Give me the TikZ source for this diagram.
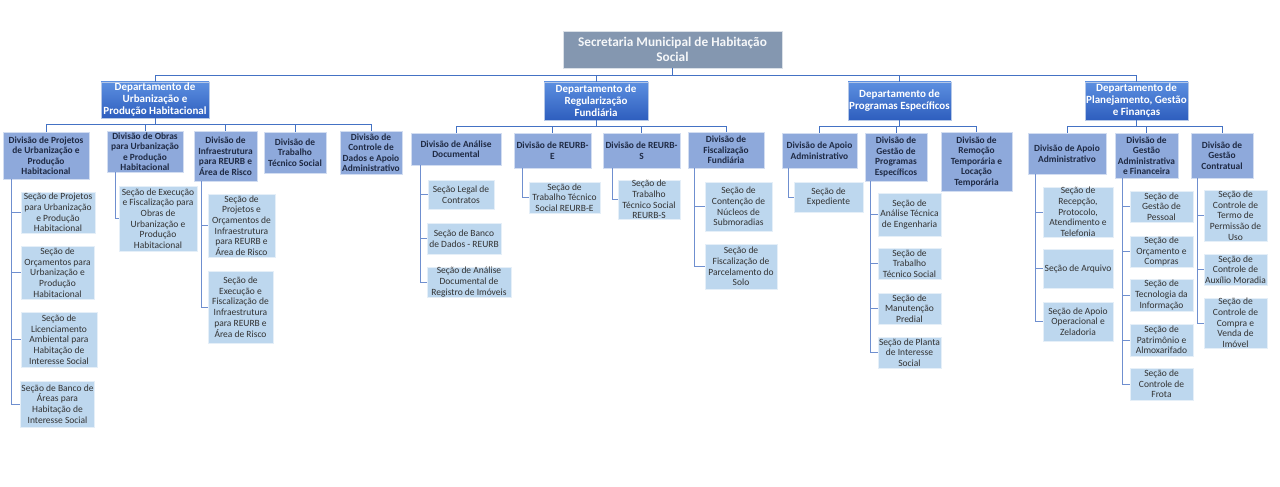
\documentclass[tikz,border=0pt]{standalone}
\usepackage{fontspec}
\setmainfont{Carlito}
\definecolor{lineblue}{HTML}{4472C4}
\definecolor{spineblue}{HTML}{6F8FCF}
\definecolor{divfill}{HTML}{8EA9DB}
\definecolor{secfill}{HTML}{BDD7EE}
\definecolor{titlefill}{HTML}{8497B0}
\definecolor{deptop}{HTML}{5C8FE0}
\definecolor{depbot}{HTML}{2E5EBE}
\definecolor{divtext}{HTML}{1F2A44}
\definecolor{sectext}{HTML}{333333}
\newcommand{\obox}[7]{%
  \pgfmathsetmacro{\oboxW}{#5-#3}%
  \pgfmathsetmacro{\oboxH}{#6-#4}%
  \pgfmathsetmacro{\oboxX}{(#3+#5)/2}%
  \pgfmathsetmacro{\oboxY}{(#4+#6)/2}%
  \node[#2, minimum width=\oboxW pt, minimum height=\oboxH pt] (#1) at (\oboxX,\oboxY) {#7};}
\begin{document}
\begin{tikzpicture}[x=1pt,y=-1pt,
  basebox/.style={rectangle, inner xsep=1pt, inner ysep=0pt, align=center, line width=0.6pt},
  titlebox/.style={basebox, fill=titlefill, draw=white!70!titlefill, text=white!92!titlefill, font=\bfseries\fontsize{13.3}{15.7}\selectfont},
  depbox/.style={basebox, top color=deptop, bottom color=depbot, draw=white!60!lineblue, text=white, font=\bfseries\fontsize{11}{12}\selectfont},
  divbox/.style={basebox, fill=divfill, draw=white!60!divfill, text=divtext, font=\bfseries\fontsize{9.4}{10.5}\selectfont},
  secbox/.style={basebox, fill=secfill, draw=white!60!secfill, text=sectext, font=\fontsize{9.5}{10.7}\selectfont},
  ln/.style={draw=lineblue, line width=0.9pt},
  spine/.style={draw=spineblue, line width=0.9pt}]
\useasboundingbox (0,0) rectangle (1280,487);
\fill[white] (0,0) rectangle (1280,487);
% top
\obox{title}{titlebox}{563}{31}{782}{68}{Secretaria Municipal de Habitação\\Social}
\obox{dep1}{depbox}{101}{82}{209}{118}{Departamento de\\Urbanização e\\Produção Habitacional}
\obox{dep2}{depbox}{544}{82}{648}{120}{Departamento de\\Regularização\\Fundiária}
\obox{dep3}{depbox}{848}{82}{951}{120}{Departamento de\\Programas Específicos}
\obox{dep4}{depbox}{1085}{82}{1188}{120}{Departamento de\\Planejamento, Gestão\\e Finanças}
% divisions
\obox{d1a}{divbox}{3}{132}{89}{179}{Divisão de Projetos\\de Urbanização e\\Produção\\Habitacional}
\obox{d1b}{divbox}{107}{131}{183}{172}{Divisão de Obras\\para Urbanização\\e Produção\\Habitacional}
\obox{d1c}{divbox}{194}{131}{257}{181}{Divisão de\\Infraestrutura\\para REURB e\\Área de Risco}
\obox{d1d}{divbox}{264}{132}{326}{173}{Divisão de\\Trabalho\\Técnico Social}
\obox{d1e}{divbox}{340}{131}{402}{174}{Divisão de\\Controle de\\Dados e Apoio\\Administrativo}
\obox{d2a}{divbox}{411}{133}{501}{165}{Divisão de Análise\\Documental}
\obox{d2b}{divbox}{514}{133}{591}{168}{Divisão de REURB-\\E}
\obox{d2c}{divbox}{603}{133}{680}{168}{Divisão de REURB-\\S}
\obox{d2d}{divbox}{688}{132}{764}{168}{Divisão de\\Fiscalização\\Fundiária}
\obox{d3a}{divbox}{782}{133}{857}{168}{Divisão de Apoio\\Administrativo}
\obox{d3b}{divbox}{865}{133}{927}{181}{Divisão de\\Gestão de\\Programas\\Específicos}
\obox{d3c}{divbox}{941}{132}{1012}{191}{Divisão de\\Remoção\\Temporária e\\Locação\\Temporária}
\obox{d4a}{divbox}{1028}{133}{1106}{174}{Divisão de Apoio\\Administrativo}
\obox{d4b}{divbox}{1115}{133}{1178}{178}{Divisão de\\Gestão\\Administrativa\\e Financeira}
\obox{d4c}{divbox}{1191}{133}{1253}{178}{Divisão de\\Gestão\\Contratual}
% sections
\obox{s1a1}{secbox}{21}{192}{95}{233}{Seção de Projetos\\para Urbanização\\e Produção\\Habitacional}
\obox{s1a2}{secbox}{21}{246}{94}{299}{Seção de\\Orçamentos para\\Urbanização e\\Produção\\Habitacional}
\obox{s1a3}{secbox}{21}{312}{97}{367}{Seção de\\Licenciamento\\Ambiental para\\Habitação de\\Interesse Social}
\obox{s1a4}{secbox}{21}{381}{94}{427}{Seção de Banco de\\Áreas para\\Habitação de\\Interesse Social}
\obox{s1b1}{secbox}{119}{186}{197}{251}{Seção de Execução\\e Fiscalização para\\Obras de\\Urbanização e\\Produção\\Habitacional}
\obox{s1c1}{secbox}{208}{194}{275}{257}{Seção de\\Projetos e\\Orçamentos de\\Infraestrutura\\para REURB e\\Área de Risco}
\obox{s1c2}{secbox}{208}{271}{273}{343}{Seção de\\Execução e\\Fiscalização de\\Infraestrutura\\para REURB e\\Área de Risco}
\obox{s2a1}{secbox}{428}{180}{494}{209}{Seção Legal de\\Contratos}
\obox{s2a2}{secbox}{427}{223}{501}{254}{Seção de Banco\\de Dados - REURB}
\obox{s2a3}{secbox}{427}{267}{511}{297}{Seção de Análise\\Documental de\\Registro de Imóveis}
\obox{s2b1}{secbox}{529}{182}{600}{213}{Seção de\\Trabalho Técnico\\Social REURB-E}
\obox{s2c1}{secbox}{618}{181}{680}{218}{Seção de\\Trabalho\\Técnico Social\\REURB-S}
\obox{s2d1}{secbox}{705}{182}{772}{231}{Seção de\\Contenção de\\Núcleos de\\Submoradias}
\obox{s2d2}{secbox}{705}{244}{777}{289}{Seção de\\Fiscalização de\\Parcelamento do\\Solo}
\obox{s3a1}{secbox}{794}{182}{863}{212}{Seção de\\Expediente}
\obox{s3b1}{secbox}{878}{193}{941}{236}{Seção de\\Análise Técnica\\de Engenharia}
\obox{s3b2}{secbox}{878}{248}{941}{279}{Seção de\\Trabalho\\Técnico Social}
\obox{s3b3}{secbox}{878}{293}{941}{324}{Seção de\\Manutenção\\Predial}
\obox{s3b4}{secbox}{878}{337}{941}{368}{Seção de Planta\\de Interesse\\Social}
\obox{s4a1}{secbox}{1043}{187}{1113}{237}{Seção de\\Recepção,\\Protocolo,\\Atendimento e\\Telefonia}
\obox{s4a2}{secbox}{1043}{249}{1113}{288}{Seção de Arquivo}
\obox{s4a3}{secbox}{1043}{302}{1113}{341}{Seção de Apoio\\Operacional e\\Zeladoria}
\obox{s4b1}{secbox}{1130}{191}{1193}{222}{Seção de\\Gestão de\\Pessoal}
\obox{s4b2}{secbox}{1130}{236}{1193}{267}{Seção de\\Orçamento e\\Compras}
\obox{s4b3}{secbox}{1130}{279}{1193}{311}{Seção de\\Tecnologia da\\Informação}
\obox{s4b4}{secbox}{1130}{324}{1193}{356}{Seção de\\Patrimônio e\\Almoxarifado}
\obox{s4b5}{secbox}{1130}{368}{1193}{400}{Seção de\\Controle de\\Frota}
\obox{s4c1}{secbox}{1204}{190}{1267}{241}{Seção de\\Controle de\\Termo de\\Permissão de\\Uso}
\obox{s4c2}{secbox}{1204}{254}{1267}{285}{Seção de\\Controle de\\Auxílio Moradia}
\obox{s4c3}{secbox}{1204}{298}{1267}{348}{Seção de\\Controle de\\Compra e\\Venda de\\Imóvel}
% bus coordinates
\coordinate (bus0) at (0,75);
\coordinate (bus1) at (0,124);
\coordinate (bus2) at (0,126);
% connectors: top level
\draw[ln] (title.south) -- (title.south |- bus0);
\draw[ln] (dep1.north) |- (dep4.north |- bus0) -- (dep4.north);
\draw[ln] (dep2.north) -- (dep2.north |- bus0);
\draw[ln] (dep3.north) -- (dep3.north |- bus0);
% department 1
\draw[ln] (dep1.south) -- (dep1.south |- bus1);
\draw[ln] (d1a.north) |- (d1e.north |- bus1) -- (d1e.north);
\foreach \d in {d1b,d1c,d1d} \draw[ln] (\d.north) -- (\d.north |- bus1);
% department 2
\draw[ln] (dep2.south) -- (dep2.south |- bus2);
\draw[ln] (d2a.north) |- (d2d.north |- bus2) -- (d2d.north);
\foreach \d in {d2b,d2c} \draw[ln] (\d.north) -- (\d.north |- bus2);
% department 3
\draw[ln] (dep3.south) -- (dep3.south |- bus2);
\draw[ln] (d3a.north) |- (d3c.north |- bus2) -- (d3c.north);
\draw[ln] (d3b.north) -- (d3b.north |- bus2);
% department 4
\draw[ln] (dep4.south) -- (dep4.south |- bus2);
\draw[ln] (d4a.north) |- (d4c.north |- bus2) -- (d4c.north);
\draw[ln] (d4b.north) -- (d4b.north |- bus2);
% section spines
\foreach \s in {s1a1,s1a2,s1a3,s1a4} \draw[spine] ([xshift=9]d1a.south west) |- (\s.west);
\draw[spine] ([xshift=9]d1b.south west) |- (s1b1.west);
\foreach \s in {s1c1,s1c2} \draw[spine] ([xshift=8]d1c.south west) |- (\s.west);
\foreach \s in {s2a1,s2a2,s2a3} \draw[spine] ([xshift=10]d2a.south west) |- (\s.west);
\draw[spine] ([xshift=9]d2b.south west) |- (s2b1.west);
\draw[spine] ([xshift=10]d2c.south west) |- (s2c1.west);
\foreach \s in {s2d1,s2d2} \draw[spine] ([xshift=7]d2d.south west) |- (\s.west);
\draw[spine] ([xshift=7]d3a.south west) |- (s3a1.west);
\foreach \s in {s3b1,s3b2,s3b3,s3b4} \draw[spine] ([xshift=6]d3b.south west) |- (\s.west);
\foreach \s in {s4a1,s4a2,s4a3} \draw[spine] ([xshift=8]d4a.south west) |- (\s.west);
\foreach \s in {s4b1,s4b2,s4b3,s4b4,s4b5} \draw[spine] ([xshift=8]d4b.south west) |- (\s.west);
\foreach \s in {s4c1,s4c2,s4c3} \draw[spine] ([xshift=7]d4c.south west) |- (\s.west);
\end{tikzpicture}
\end{document}
